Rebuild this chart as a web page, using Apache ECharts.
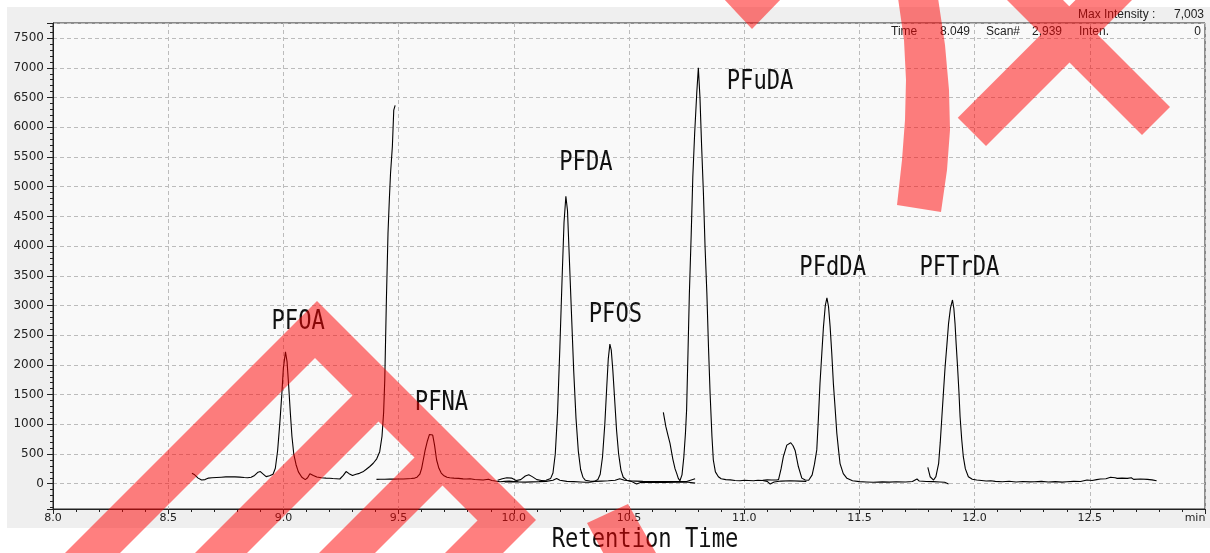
<!DOCTYPE html>
<html><head><meta charset="utf-8">
<script src="https://cdn.jsdelivr.net/npm/echarts@6/dist/echarts.min.js"></script>
<style>html,body{margin:0;padding:0;background:#fff}#c{width:1210px;height:553px}</style>
</head><body><div id="c"></div>
<script>
// ---------- data ----------
const xTickLabels = ['8.0','8.5','9.0','9.5','10.0','10.5','11.0','11.5','12.0','12.5','min'];

// chromatogram segments: [retention time (min), intensity]
const segPFOA = [[8.603,175],[8.615,150],[8.63,95],[8.645,62],[8.66,70],[8.675,95],[8.69,100],[8.71,105],[8.73,110],[8.75,115],[8.77,118],[8.79,115],[8.81,112],[8.83,105],[8.845,100],[8.86,110],[8.875,140],[8.89,195],[8.9,205],[8.91,170],[8.925,120],[8.94,135],[8.955,160],[8.965,260],[8.975,560],[8.985,1050],[8.993,1500],[9.0,1950],[9.009,2220],[9.016,2050],[9.022,1700],[9.03,1200],[9.037,800],[9.045,500],[9.055,320],[9.065,200],[9.08,110],[9.095,70],[9.105,100],[9.115,170],[9.122,175],[9.13,140],[9.145,115],[9.165,100],[9.185,95],[9.2,92],[9.215,88],[9.23,85],[9.245,80],[9.26,140],[9.272,205],[9.285,170],[9.3,140],[9.315,160],[9.33,175],[9.345,200],[9.36,245],[9.375,290],[9.39,345],[9.405,420],[9.418,540],[9.428,800],[9.435,1200],[9.44,1750],[9.447,3090],[9.454,4215],[9.46,4800],[9.465,5225],[9.473,5680],[9.479,6290],[9.485,6370]];
const segPFNA = [[9.404,74],[9.42,75],[9.44,76],[9.46,77],[9.48,78],[9.5,80],[9.52,80],[9.54,85],[9.555,88],[9.57,95],[9.58,110],[9.592,160],[9.6,260],[9.607,400],[9.615,560],[9.625,720],[9.634,830],[9.64,850],[9.648,820],[9.656,650],[9.665,400],[9.675,260],[9.685,180],[9.695,140],[9.71,110],[9.722,100],[9.74,95],[9.76,90],[9.78,82],[9.795,79],[9.81,85],[9.83,72],[9.85,68],[9.867,62],[9.89,75],[9.905,55],[9.92,45],[9.94,34],[9.96,40],[9.98,45],[10.0,38],[10.02,42]];
const segPFDA = [[9.93,60],[9.95,85],[9.97,100],[9.99,95],[10.01,55],[10.03,70],[10.05,130],[10.065,150],[10.08,120],[10.1,70],[10.12,55],[10.14,60],[10.16,90],[10.17,180],[10.18,500],[10.19,1200],[10.2,2300],[10.21,3500],[10.218,4400],[10.226,4840],[10.233,4600],[10.24,3900],[10.25,2900],[10.26,1900],[10.27,1100],[10.28,550],[10.29,240],[10.3,110],[10.31,60],[10.33,45],[10.35,40],[10.38,45],[10.41,50],[10.44,60],[10.46,85],[10.48,60],[10.5,50],[10.53,45],[10.56,40],[10.6,38],[10.65,35],[10.7,35],[10.75,38],[10.787,85]];
const segPFOS = [[9.96,30],[9.99,35],[10.02,30],[10.05,28],[10.08,32],[10.11,35],[10.14,40],[10.17,60],[10.186,90],[10.2,60],[10.23,40],[10.26,35],[10.29,30],[10.31,25],[10.33,28],[10.35,40],[10.365,70],[10.375,160],[10.385,450],[10.395,1000],[10.403,1600],[10.41,2100],[10.417,2350],[10.423,2250],[10.43,1900],[10.438,1400],[10.446,900],[10.455,500],[10.465,230],[10.475,110],[10.49,60],[10.51,40],[10.533,-5],[10.55,20],[10.58,25],[10.62,20],[10.66,22],[10.7,25],[10.75,30],[10.787,10]];
const segPFuDA = [[10.649,1200],[10.66,960],[10.67,800],[10.678,680],[10.69,420],[10.7,250],[10.707,175],[10.714,90],[10.721,51],[10.73,150],[10.738,450],[10.745,850],[10.75,1240],[10.756,2200],[10.762,3200],[10.77,4200],[10.777,5170],[10.785,5900],[10.794,6570],[10.801,7003],[10.808,6500],[10.815,5700],[10.823,4890],[10.83,4000],[10.838,3200],[10.845,2300],[10.852,1520],[10.86,800],[10.866,400],[10.875,200],[10.888,118],[10.9,85],[10.92,70],[10.94,65],[10.96,55],[10.982,51],[11.0,60],[11.02,55],[11.04,50],[11.06,60],[11.08,55],[11.1,40],[11.113,-5],[11.13,30],[11.16,45],[11.2,50],[11.24,45],[11.27,40]];
const segPFdDA = [[11.08,60],[11.1,65],[11.12,62],[11.14,62],[11.149,70],[11.16,250],[11.17,455],[11.185,650],[11.202,690],[11.212,640],[11.221,560],[11.235,290],[11.25,95],[11.265,62],[11.28,58],[11.286,62],[11.295,150],[11.305,330],[11.315,570],[11.322,1100],[11.329,1690],[11.337,2200],[11.344,2640],[11.352,3000],[11.359,3130],[11.366,2980],[11.373,2640],[11.38,2200],[11.387,1690],[11.395,1250],[11.402,850],[11.41,550],[11.416,340],[11.43,170],[11.446,91],[11.47,50],[11.5,35],[11.53,30],[11.56,25],[11.6,32],[11.63,28],[11.66,34],[11.7,30],[11.73,38],[11.75,80],[11.76,45],[11.79,38],[11.82,35],[11.85,30],[11.87,25],[11.887,-5]];
const segPFTrDA = [[11.797,276],[11.807,118],[11.822,62],[11.832,120],[11.844,343],[11.851,700],[11.858,1128],[11.865,1550],[11.872,1970],[11.88,2350],[11.887,2700],[11.895,2950],[11.904,3093],[11.91,2950],[11.915,2700],[11.92,2350],[11.926,1970],[11.932,1550],[11.937,1128],[11.944,750],[11.951,455],[11.96,250],[11.973,118],[11.99,75],[12.009,62],[12.03,55],[12.05,45],[12.07,50],[12.09,40],[12.12,34],[12.15,42],[12.18,30],[12.21,38],[12.24,32],[12.26,34],[12.29,40],[12.32,30],[12.35,36],[12.38,28],[12.4,34],[12.43,40],[12.46,38],[12.488,62],[12.51,55],[12.53,70],[12.546,79],[12.57,85],[12.59,110],[12.597,130],[12.61,100],[12.619,91],[12.64,95],[12.663,91],[12.68,100],[12.69,74],[12.72,80],[12.75,74],[12.77,65],[12.79,51]];

// peak name labels (positions in data units)
const peakNames = ['PFOA','PFNA','PFDA','PFOS','PFuDA','PFdDA','PFTrDA'];
const peakLabelTime = [9.064, 9.686, 10.313, 10.441, 11.069, 11.384, 11.934];
const peakLabelInten = [2722, 1352, 5394, 2840, 6763, 3626, 3626];

// ---------- chart ----------
const segments = [segPFOA, segPFNA, segPFDA, segPFOS, segPFuDA, segPFdDA, segPFTrDA];
const chart = echarts.init(document.getElementById('c'), null, {renderer: 'canvas'});
const red = 'rgba(255,0,0,0.5)';
const headerFont = {fontFamily: 'Liberation Sans', fontSize: 12, fill: '#222'};

const lineSeries = segments.map(seg => ({
  type: 'line', data: seg, showSymbol: false, symbol: 'none', smooth: false,
  lineStyle: {color: '#000', width: 1.1}, clip: true, z: 3, silent: true
}));

const labelSeries = {
  type: 'custom', coordinateSystem: 'cartesian2d', clip: false, silent: true, z: 4,
  data: peakNames.map((n, i) => [peakLabelTime[i], peakLabelInten[i]]),
  renderItem: (params, api) => {
    const p = api.coord([api.value(0), api.value(1)]);
    return {type: 'text', x: p[0], y: p[1], scaleX: 0.82,
      style: {text: peakNames[params.dataIndex], fontFamily: 'DejaVu Sans Mono', fontSize: 27,
        fill: '#111', align: 'center', verticalAlign: 'middle'}};
  }
};

function hText(text, x, y, align) {
  return {type: 'text', x: x, y: y, z: 20, silent: true,
    style: Object.assign({text: text, align: align, verticalAlign: 'middle'}, headerFont)};
}

chart.setOption({
  animation: false,
  backgroundColor: '#fff',
  grid: {left: 53, right: 5, top: 23, bottom: 44, containLabel: false, outerBoundsMode: 'none',
    show: true, backgroundColor: '#f9f9f9', borderColor: '#222', borderWidth: 1},
  xAxis: {
    type: 'value', min: 8, max: 13, interval: 0.5,
    axisLine: {show: true, onZero: false, lineStyle: {color: '#222', width: 1}},
    axisTick: {show: true, inside: false, length: 5, lineStyle: {color: '#222'}},
    minorTick: {show: true, splitNumber: 5, length: 3, lineStyle: {color: '#222'}},
    splitLine: {show: true, lineStyle: {color: '#bcbcbc', type: [4, 3], width: 1}},
    axisLabel: {margin: 4, showMaxLabel: true, fontFamily: 'DejaVu Sans', fontSize: 11, color: '#222',
      formatter: v => {
        const i = Math.round((v - 8) / 0.5);
        const s = xTickLabels[i] || '';
        return s === 'min' ? '{m|min}' : s;
      },
      rich: {m: {fontFamily: 'DejaVu Sans', fontSize: 11, color: '#222', padding: [0, 20, 0, 0]}}
    }
  },
  yAxis: {
    type: 'value', min: -425, max: 7755, splitNumber: 16, minInterval: 500, maxInterval: 500,
    axisLine: {show: true, lineStyle: {color: '#222', width: 1}},
    axisTick: {show: true, inside: false, length: 6, lineStyle: {color: '#222'}},
    minorTick: {show: true, splitNumber: 5, length: 3, lineStyle: {color: '#222'}},
    splitLine: {show: true, lineStyle: {color: '#bcbcbc', type: [4, 3], width: 1}},
    axisLabel: {margin: 9, showMinLabel: false, showMaxLabel: false,
      fontFamily: 'DejaVu Sans', fontSize: 12, color: '#222',
      formatter: v => String(Math.round(v))}
  },
  series: lineSeries.concat([labelSeries]),
  graphic: [
    {type: 'rect', z: -10, silent: true, shape: {x: 7, y: 7, width: 1203, height: 521}, style: {fill: '#efefef'}},
    hText('Max Intensity :', 1078, 15, 'left'),
    hText('7,003', 1204, 15, 'right'),
    hText('Time', 891, 32, 'left'),
    hText('8.049', 970, 32, 'right'),
    hText('Scan#', 986, 32, 'left'),
    hText('2,939', 1062, 32, 'right'),
    hText('Inten.', 1079, 32, 'left'),
    hText('0', 1201, 32, 'right'),
    {type: 'text', x: 645, y: 540, z: 20, scaleX: 0.82, silent: true,
      style: {text: 'Retention Time', fontFamily: 'DejaVu Sans Mono', fontSize: 27, fill: '#111',
        align: 'center', verticalAlign: 'middle'}},
    // red overlay marks
    {type: 'polygon', z: 100, silent: true, style: {fill: red}, shape: {points: [
      [317,301],[536,520],[506.5,549.5],[456,600],[398,600],[477.5,520.5],[442.5,485.5],[328,600],[272,600],
      [414.5,457.5],[378.5,421.5],[200,600],[148,600],[352.5,395.5],[315,358],[73,600],[18,600]]}},
    {type: 'polygon', z: 100, silent: true, style: {fill: red}, shape: {points: [
      [628,504],[587,523],[607,560],[660,560]]}},
    {type: 'polygon', z: 100, silent: true, style: {fill: red}, shape: {points: [
      [723,-2],[782,-2],[752,29]]}},
    {type: 'polygon', z: 100, silent: true, style: {fill: red}, shape: {points: [
      [898,-2],[904,40],[906,80],[905,120],[902,160],[897,205],[941,212],[947,170],[950,130],[949,90],[945,45],[938,-2]]}},
    {type: 'polygon', z: 100, silent: true, style: {fill: red}, shape: {points: [
      [997,-10],[1041.25,34.25],[957.75,117.75],[986,146],[1069.5,62.5],[1142,135],[1170,107],
      [1097.5,34.5],[1142,-10],[1085.5,-10],[1069.25,6.25],[1053,-10]]}}
  ]
});
</script></body></html>
